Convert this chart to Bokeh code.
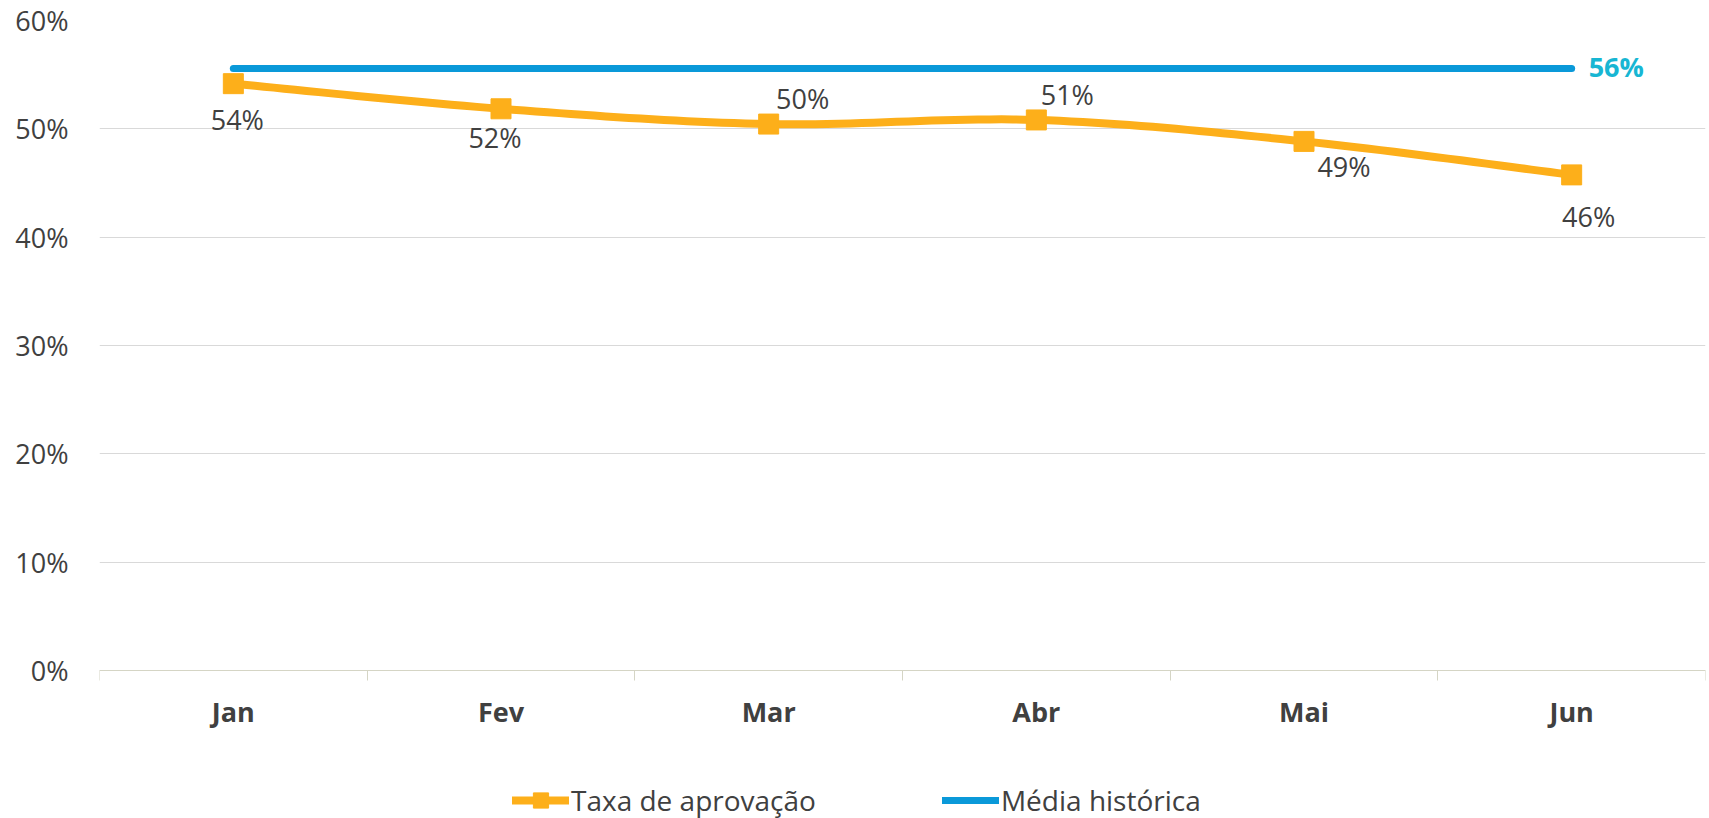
import numpy as np
from bokeh.plotting import figure
from bokeh.models import (ColumnDataSource, Range1d, FixedTicker, NumeralTickFormatter,
                          Legend, LegendItem)
from bokeh.core.properties import value
from bokeh.embed import file_html
from bokeh.resources import INLINE

# ---- data ----
months = ["Jan", "Fev", "Mar", "Abr", "Mai", "Jun"]
taxa_aprovacao = [0.5417, 0.5185, 0.5044, 0.5082, 0.4884, 0.4575]
taxa_labels = ["54%", "52%", "50%", "51%", "49%", "46%"]
media_historica = 0.5558
media_label = "56%"
y_ticks = [0.0, 0.1, 0.2, 0.3, 0.4, 0.5, 0.6]

# ---- style ----
FONT = "Open Sans"
ORANGE = "#FDAF1A"
BLUE = "#0A99D9"
CYAN = "#17B6D3"
TXT = "#404040"
FS = "27px"
W, H = 1709, 818
BORDER_L, BORDER_T, BORDER_R = 99, 20, 4
PX_ABOVE_ZERO = 650.0          # pixels from 60% line down to the 0% line
PX_BELOW_ZERO = H - BORDER_T - PX_ABOVE_ZERO   # room for x labels and legend
# label offsets in screen px (x right, y down)
lbl_dx = [4, -6, 34, 31, 40, 17]
lbl_dy = [36, 29, -26, -25, 25, 42]

n = len(months)
xs = list(range(n))
y_top = y_ticks[-1]
y_bottom = -y_top * PX_BELOW_ZERO / PX_ABOVE_ZERO


def smooth(xv, yv, steps=24):
    """Excel-like smoothed line: cubic Bezier segments (Catmull-Rom control points)."""
    px, py = [], []
    t = np.linspace(0, 1, steps)
    for i in range(len(xv) - 1):
        i0, i3 = max(i - 1, 0), min(i + 2, len(xv) - 1)
        p0 = np.array([xv[i], yv[i]])
        p3 = np.array([xv[i + 1], yv[i + 1]])
        c1 = p0 + (p3 - np.array([xv[i0], yv[i0]])) / 6
        c2 = p3 - (np.array([xv[i3], yv[i3]]) - p0) / 6
        pts = ((1 - t) ** 3)[:, None] * p0 + (3 * (1 - t) ** 2 * t)[:, None] * c1 \
            + (3 * (1 - t) * t ** 2)[:, None] * c2 + (t ** 3)[:, None] * p3
        if i > 0:
            pts = pts[1:]
        px.extend(pts[:, 0].tolist())
        py.extend(pts[:, 1].tolist())
    return px, py


p = figure(width=W, height=H, min_border_left=BORDER_L, min_border_top=BORDER_T,
           min_border_right=BORDER_R, min_border_bottom=0,
           x_range=Range1d(-0.5, n - 0.5), y_range=Range1d(y_bottom, y_top),
           output_backend="svg", toolbar_location=None)
p.outline_line_color = None
p.background_fill_color = "white"
p.border_fill_color = "white"

# grid
p.xgrid.grid_line_color = None
p.ygrid.grid_line_color = "#D9D9D9"
p.ygrid.grid_line_width = 1
p.ygrid.ticker = FixedTicker(ticks=y_ticks)

# y axis
p.yaxis.ticker = FixedTicker(ticks=y_ticks)
p.yaxis.formatter = NumeralTickFormatter(format="0%")
p.yaxis.axis_line_color = None
p.yaxis.major_tick_line_color = None
p.yaxis.minor_tick_line_color = None
p.yaxis.major_tick_out = 0
p.yaxis.major_label_standoff = 31
p.yaxis.major_label_text_font = FONT
p.yaxis.major_label_text_font_size = FS
p.yaxis.major_label_text_color = TXT

# x axis, sitting on the 0% line
p.xaxis.fixed_location = 0
p.xaxis.ticker = FixedTicker(ticks=xs, minor_ticks=[i - 0.5 for i in range(n + 1)])
p.xaxis.major_label_overrides = {i: m for i, m in enumerate(months)}
p.xaxis.axis_line_color = "#D5D5C5"
p.xaxis.axis_line_width = 1
p.xaxis.major_tick_line_color = None
p.xaxis.major_tick_out = 10
p.xaxis.minor_tick_line_color = "#D5D5C5"
p.xaxis.minor_tick_out = 10
p.xaxis.minor_tick_in = 0
p.xaxis.major_label_standoff = 12
p.xaxis.major_label_text_font = FONT
p.xaxis.major_label_text_font_size = FS
p.xaxis.major_label_text_font_style = "bold"
p.xaxis.major_label_text_color = TXT

# media historica line
blue_r = p.line(x=[xs[0], xs[-1]], y=[media_historica, media_historica],
                line_color=BLUE, line_width=7, line_cap="round")
p.text(x=[xs[-1]], y=[media_historica], text=[media_label], x_offset=17, y_offset=-2,
       text_font=value(FONT), text_font_size=FS, text_font_style="bold",
       text_color=CYAN, text_align="left", text_baseline="middle")

# smoothed taxa curve
sx, sy = smooth(xs, taxa_aprovacao)
orange_r = p.line(x=sx, y=sy, line_color=ORANGE, line_width=8,
                  line_cap="round", line_join="round")
sq_r = p.scatter(x=xs, y=taxa_aprovacao, marker="square", size=20,
                 fill_color=ORANGE, line_color=ORANGE)

src = ColumnDataSource(dict(x=xs, y=taxa_aprovacao, t=taxa_labels, dx=lbl_dx, dy=lbl_dy))
p.text(x="x", y="y", text="t", x_offset="dx", y_offset="dy", source=src,
       text_font=value(FONT), text_font_size=FS, text_color=TXT,
       text_align="center", text_baseline="middle")

legend = Legend(items=[LegendItem(label="Taxa de aprovação", renderers=[orange_r, sq_r]),
                       LegendItem(label="Média histórica", renderers=[blue_r])],
                orientation="horizontal", location=(413, -1),
                glyph_width=57, glyph_height=38, label_standoff=2, spacing=126,
                padding=0, margin=0, border_line_color=None, background_fill_alpha=0,
                label_text_font=FONT, label_text_font_size="28px", label_text_color=TXT)
p.add_layout(legend, "center")

open("out.html", "w").write(file_html(p, INLINE))
